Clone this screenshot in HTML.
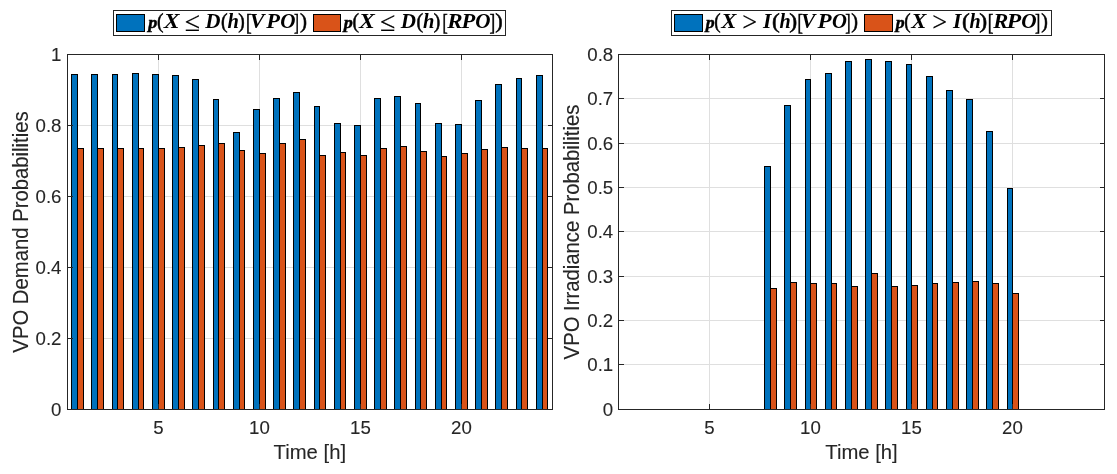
<!DOCTYPE html>
<html lang="en"><head><meta charset="utf-8"><title>VPO Probabilities</title>
<style>
html,body{margin:0;padding:0;background:#fff;}
body{width:1117px;height:474px;overflow:hidden;}
svg{display:block;}
text{font-family:"Liberation Sans",sans-serif;fill:#262626;}
.tk,.lb{stroke:#262626;stroke-width:0.1px;}
.tk{font-size:18.67px;}
.lb{font-size:20.3px;}
.m{font-family:"Liberation Serif",serif;font-size:20px;fill:#000;}
.bi{font-weight:bold;font-style:italic;}
.th{stroke:#000;stroke-width:0.55px;}
.rl{stroke:#000;stroke-width:0.15px;}
.pp{stroke:#000;stroke-width:0.45px;}
</style></head><body>
<svg width="1117" height="474" viewBox="0 0 1117 474">
<rect x="0" y="0" width="1117" height="474" fill="#fff"/>

<g shape-rendering="crispEdges">
<line x1="158.5" y1="54.5" x2="158.5" y2="409.5" stroke="#DFDFDF" stroke-width="1"/>
<line x1="259.5" y1="54.5" x2="259.5" y2="409.5" stroke="#DFDFDF" stroke-width="1"/>
<line x1="360.5" y1="54.5" x2="360.5" y2="409.5" stroke="#DFDFDF" stroke-width="1"/>
<line x1="461.5" y1="54.5" x2="461.5" y2="409.5" stroke="#DFDFDF" stroke-width="1"/>
<line x1="67.5" y1="338.5" x2="552.5" y2="338.5" stroke="#DFDFDF" stroke-width="1"/>
<line x1="67.5" y1="267.5" x2="552.5" y2="267.5" stroke="#DFDFDF" stroke-width="1"/>
<line x1="67.5" y1="196.5" x2="552.5" y2="196.5" stroke="#DFDFDF" stroke-width="1"/>
<line x1="67.5" y1="125.5" x2="552.5" y2="125.5" stroke="#DFDFDF" stroke-width="1"/>
<rect x="71.5" y="74.5" width="6" height="335" fill="#0072BD" stroke="#000" stroke-width="1"/>
<rect x="77.5" y="148.5" width="6" height="261" fill="#D95319" stroke="#000" stroke-width="1"/>
<rect x="91.5" y="74.5" width="6" height="335" fill="#0072BD" stroke="#000" stroke-width="1"/>
<rect x="97.5" y="148.5" width="6" height="261" fill="#D95319" stroke="#000" stroke-width="1"/>
<rect x="112.5" y="74.5" width="5" height="335" fill="#0072BD" stroke="#000" stroke-width="1"/>
<rect x="117.5" y="148.5" width="6" height="261" fill="#D95319" stroke="#000" stroke-width="1"/>
<rect x="132.5" y="73.5" width="6" height="336" fill="#0072BD" stroke="#000" stroke-width="1"/>
<rect x="138.5" y="148.5" width="5" height="261" fill="#D95319" stroke="#000" stroke-width="1"/>
<rect x="152.5" y="74.5" width="6" height="335" fill="#0072BD" stroke="#000" stroke-width="1"/>
<rect x="158.5" y="148.5" width="6" height="261" fill="#D95319" stroke="#000" stroke-width="1"/>
<rect x="172.5" y="75.5" width="6" height="334" fill="#0072BD" stroke="#000" stroke-width="1"/>
<rect x="178.5" y="147.5" width="6" height="262" fill="#D95319" stroke="#000" stroke-width="1"/>
<rect x="192.5" y="79.5" width="6" height="330" fill="#0072BD" stroke="#000" stroke-width="1"/>
<rect x="198.5" y="145.5" width="6" height="264" fill="#D95319" stroke="#000" stroke-width="1"/>
<rect x="213.5" y="99.5" width="5" height="310" fill="#0072BD" stroke="#000" stroke-width="1"/>
<rect x="218.5" y="143.5" width="6" height="266" fill="#D95319" stroke="#000" stroke-width="1"/>
<rect x="233.5" y="132.5" width="6" height="277" fill="#0072BD" stroke="#000" stroke-width="1"/>
<rect x="239.5" y="150.5" width="5" height="259" fill="#D95319" stroke="#000" stroke-width="1"/>
<rect x="253.5" y="109.5" width="6" height="300" fill="#0072BD" stroke="#000" stroke-width="1"/>
<rect x="259.5" y="153.5" width="6" height="256" fill="#D95319" stroke="#000" stroke-width="1"/>
<rect x="273.5" y="98.5" width="6" height="311" fill="#0072BD" stroke="#000" stroke-width="1"/>
<rect x="279.5" y="143.5" width="6" height="266" fill="#D95319" stroke="#000" stroke-width="1"/>
<rect x="293.5" y="92.5" width="6" height="317" fill="#0072BD" stroke="#000" stroke-width="1"/>
<rect x="299.5" y="139.5" width="6" height="270" fill="#D95319" stroke="#000" stroke-width="1"/>
<rect x="314.5" y="106.5" width="5" height="303" fill="#0072BD" stroke="#000" stroke-width="1"/>
<rect x="319.5" y="155.5" width="6" height="254" fill="#D95319" stroke="#000" stroke-width="1"/>
<rect x="334.5" y="123.5" width="6" height="286" fill="#0072BD" stroke="#000" stroke-width="1"/>
<rect x="340.5" y="152.5" width="5" height="257" fill="#D95319" stroke="#000" stroke-width="1"/>
<rect x="354.5" y="125.5" width="6" height="284" fill="#0072BD" stroke="#000" stroke-width="1"/>
<rect x="360.5" y="155.5" width="6" height="254" fill="#D95319" stroke="#000" stroke-width="1"/>
<rect x="374.5" y="98.5" width="6" height="311" fill="#0072BD" stroke="#000" stroke-width="1"/>
<rect x="380.5" y="148.5" width="6" height="261" fill="#D95319" stroke="#000" stroke-width="1"/>
<rect x="394.5" y="96.5" width="6" height="313" fill="#0072BD" stroke="#000" stroke-width="1"/>
<rect x="400.5" y="146.5" width="6" height="263" fill="#D95319" stroke="#000" stroke-width="1"/>
<rect x="415.5" y="103.5" width="5" height="306" fill="#0072BD" stroke="#000" stroke-width="1"/>
<rect x="420.5" y="151.5" width="6" height="258" fill="#D95319" stroke="#000" stroke-width="1"/>
<rect x="435.5" y="123.5" width="6" height="286" fill="#0072BD" stroke="#000" stroke-width="1"/>
<rect x="441.5" y="156.5" width="5" height="253" fill="#D95319" stroke="#000" stroke-width="1"/>
<rect x="455.5" y="124.5" width="6" height="285" fill="#0072BD" stroke="#000" stroke-width="1"/>
<rect x="461.5" y="153.5" width="6" height="256" fill="#D95319" stroke="#000" stroke-width="1"/>
<rect x="475.5" y="100.5" width="6" height="309" fill="#0072BD" stroke="#000" stroke-width="1"/>
<rect x="481.5" y="149.5" width="6" height="260" fill="#D95319" stroke="#000" stroke-width="1"/>
<rect x="495.5" y="84.5" width="6" height="325" fill="#0072BD" stroke="#000" stroke-width="1"/>
<rect x="501.5" y="147.5" width="6" height="262" fill="#D95319" stroke="#000" stroke-width="1"/>
<rect x="516.5" y="78.5" width="5" height="331" fill="#0072BD" stroke="#000" stroke-width="1"/>
<rect x="521.5" y="148.5" width="6" height="261" fill="#D95319" stroke="#000" stroke-width="1"/>
<rect x="536.5" y="75.5" width="6" height="334" fill="#0072BD" stroke="#000" stroke-width="1"/>
<rect x="542.5" y="148.5" width="5" height="261" fill="#D95319" stroke="#000" stroke-width="1"/>
<rect x="67.5" y="54.5" width="485.0" height="355.0" fill="none" stroke="#262626" stroke-width="1"/>
<line x1="158.5" y1="409.5" x2="158.5" y2="403.6" stroke="#262626" stroke-width="1"/>
<line x1="158.5" y1="54.5" x2="158.5" y2="59.5" stroke="#262626" stroke-width="1"/>
<line x1="259.5" y1="409.5" x2="259.5" y2="403.6" stroke="#262626" stroke-width="1"/>
<line x1="259.5" y1="54.5" x2="259.5" y2="59.5" stroke="#262626" stroke-width="1"/>
<line x1="360.5" y1="409.5" x2="360.5" y2="403.6" stroke="#262626" stroke-width="1"/>
<line x1="360.5" y1="54.5" x2="360.5" y2="59.5" stroke="#262626" stroke-width="1"/>
<line x1="461.5" y1="409.5" x2="461.5" y2="403.6" stroke="#262626" stroke-width="1"/>
<line x1="461.5" y1="54.5" x2="461.5" y2="59.5" stroke="#262626" stroke-width="1"/>
<line x1="67.5" y1="409.5" x2="72.5" y2="409.5" stroke="#262626" stroke-width="1"/>
<line x1="552.5" y1="409.5" x2="547.5" y2="409.5" stroke="#262626" stroke-width="1"/>
<line x1="67.5" y1="338.5" x2="72.5" y2="338.5" stroke="#262626" stroke-width="1"/>
<line x1="552.5" y1="338.5" x2="547.5" y2="338.5" stroke="#262626" stroke-width="1"/>
<line x1="67.5" y1="267.5" x2="72.5" y2="267.5" stroke="#262626" stroke-width="1"/>
<line x1="552.5" y1="267.5" x2="547.5" y2="267.5" stroke="#262626" stroke-width="1"/>
<line x1="67.5" y1="196.5" x2="72.5" y2="196.5" stroke="#262626" stroke-width="1"/>
<line x1="552.5" y1="196.5" x2="547.5" y2="196.5" stroke="#262626" stroke-width="1"/>
<line x1="67.5" y1="125.5" x2="72.5" y2="125.5" stroke="#262626" stroke-width="1"/>
<line x1="552.5" y1="125.5" x2="547.5" y2="125.5" stroke="#262626" stroke-width="1"/>
<line x1="67.5" y1="54.5" x2="72.5" y2="54.5" stroke="#262626" stroke-width="1"/>
<line x1="552.5" y1="54.5" x2="547.5" y2="54.5" stroke="#262626" stroke-width="1"/>
</g>
<text class="tk" x="158.5" y="434" text-anchor="middle">5</text>
<text class="tk" x="259.5" y="434" text-anchor="middle">10</text>
<text class="tk" x="360.5" y="434" text-anchor="middle">15</text>
<text class="tk" x="461.5" y="434" text-anchor="middle">20</text>
<text class="tk" x="61.5" y="416.3" text-anchor="end">0</text>
<text class="tk" x="61.5" y="345.3" text-anchor="end">0.2</text>
<text class="tk" x="61.5" y="274.3" text-anchor="end">0.4</text>
<text class="tk" x="61.5" y="203.3" text-anchor="end">0.6</text>
<text class="tk" x="61.5" y="132.3" text-anchor="end">0.8</text>
<text class="tk" x="61.5" y="61.3" text-anchor="end">1</text>
<text class="lb" x="309.8" y="458.6" text-anchor="middle">Time [h]</text>
<text class="lb" transform="translate(28.2,232) rotate(-90) scale(1,1.05)" text-anchor="middle">VPO Demand Probabilities</text>
<g shape-rendering="crispEdges">
<line x1="709.5" y1="54.5" x2="709.5" y2="409.5" stroke="#DFDFDF" stroke-width="1"/>
<line x1="810.5" y1="54.5" x2="810.5" y2="409.5" stroke="#DFDFDF" stroke-width="1"/>
<line x1="911.5" y1="54.5" x2="911.5" y2="409.5" stroke="#DFDFDF" stroke-width="1"/>
<line x1="1012.5" y1="54.5" x2="1012.5" y2="409.5" stroke="#DFDFDF" stroke-width="1"/>
<line x1="618.5" y1="364.5" x2="1104.5" y2="364.5" stroke="#DFDFDF" stroke-width="1"/>
<line x1="618.5" y1="320.5" x2="1104.5" y2="320.5" stroke="#DFDFDF" stroke-width="1"/>
<line x1="618.5" y1="276.5" x2="1104.5" y2="276.5" stroke="#DFDFDF" stroke-width="1"/>
<line x1="618.5" y1="231.5" x2="1104.5" y2="231.5" stroke="#DFDFDF" stroke-width="1"/>
<line x1="618.5" y1="187.5" x2="1104.5" y2="187.5" stroke="#DFDFDF" stroke-width="1"/>
<line x1="618.5" y1="143.5" x2="1104.5" y2="143.5" stroke="#DFDFDF" stroke-width="1"/>
<line x1="618.5" y1="98.5" x2="1104.5" y2="98.5" stroke="#DFDFDF" stroke-width="1"/>
<rect x="764.5" y="166.5" width="6" height="243" fill="#0072BD" stroke="#000" stroke-width="1"/>
<rect x="770.5" y="288.5" width="6" height="121" fill="#D95319" stroke="#000" stroke-width="1"/>
<rect x="784.5" y="105.5" width="6" height="304" fill="#0072BD" stroke="#000" stroke-width="1"/>
<rect x="790.5" y="282.5" width="6" height="127" fill="#D95319" stroke="#000" stroke-width="1"/>
<rect x="805.5" y="79.5" width="5" height="330" fill="#0072BD" stroke="#000" stroke-width="1"/>
<rect x="810.5" y="283.5" width="6" height="126" fill="#D95319" stroke="#000" stroke-width="1"/>
<rect x="825.5" y="73.5" width="6" height="336" fill="#0072BD" stroke="#000" stroke-width="1"/>
<rect x="831.5" y="283.5" width="5" height="126" fill="#D95319" stroke="#000" stroke-width="1"/>
<rect x="845.5" y="61.5" width="6" height="348" fill="#0072BD" stroke="#000" stroke-width="1"/>
<rect x="851.5" y="286.5" width="6" height="123" fill="#D95319" stroke="#000" stroke-width="1"/>
<rect x="865.5" y="59.5" width="6" height="350" fill="#0072BD" stroke="#000" stroke-width="1"/>
<rect x="871.5" y="273.5" width="6" height="136" fill="#D95319" stroke="#000" stroke-width="1"/>
<rect x="885.5" y="61.5" width="6" height="348" fill="#0072BD" stroke="#000" stroke-width="1"/>
<rect x="891.5" y="286.5" width="6" height="123" fill="#D95319" stroke="#000" stroke-width="1"/>
<rect x="906.5" y="64.5" width="5" height="345" fill="#0072BD" stroke="#000" stroke-width="1"/>
<rect x="911.5" y="285.5" width="6" height="124" fill="#D95319" stroke="#000" stroke-width="1"/>
<rect x="926.5" y="76.5" width="6" height="333" fill="#0072BD" stroke="#000" stroke-width="1"/>
<rect x="932.5" y="283.5" width="5" height="126" fill="#D95319" stroke="#000" stroke-width="1"/>
<rect x="946.5" y="90.5" width="6" height="319" fill="#0072BD" stroke="#000" stroke-width="1"/>
<rect x="952.5" y="282.5" width="6" height="127" fill="#D95319" stroke="#000" stroke-width="1"/>
<rect x="966.5" y="99.5" width="6" height="310" fill="#0072BD" stroke="#000" stroke-width="1"/>
<rect x="972.5" y="281.5" width="6" height="128" fill="#D95319" stroke="#000" stroke-width="1"/>
<rect x="986.5" y="131.5" width="6" height="278" fill="#0072BD" stroke="#000" stroke-width="1"/>
<rect x="992.5" y="283.5" width="6" height="126" fill="#D95319" stroke="#000" stroke-width="1"/>
<rect x="1007.5" y="188.5" width="5" height="221" fill="#0072BD" stroke="#000" stroke-width="1"/>
<rect x="1012.5" y="293.5" width="6" height="116" fill="#D95319" stroke="#000" stroke-width="1"/>
<rect x="618.5" y="54.5" width="486.0" height="355.0" fill="none" stroke="#262626" stroke-width="1"/>
<line x1="709.5" y1="409.5" x2="709.5" y2="403.6" stroke="#262626" stroke-width="1"/>
<line x1="709.5" y1="54.5" x2="709.5" y2="59.5" stroke="#262626" stroke-width="1"/>
<line x1="810.5" y1="409.5" x2="810.5" y2="403.6" stroke="#262626" stroke-width="1"/>
<line x1="810.5" y1="54.5" x2="810.5" y2="59.5" stroke="#262626" stroke-width="1"/>
<line x1="911.5" y1="409.5" x2="911.5" y2="403.6" stroke="#262626" stroke-width="1"/>
<line x1="911.5" y1="54.5" x2="911.5" y2="59.5" stroke="#262626" stroke-width="1"/>
<line x1="1012.5" y1="409.5" x2="1012.5" y2="403.6" stroke="#262626" stroke-width="1"/>
<line x1="1012.5" y1="54.5" x2="1012.5" y2="59.5" stroke="#262626" stroke-width="1"/>
<line x1="618.5" y1="409.5" x2="623.5" y2="409.5" stroke="#262626" stroke-width="1"/>
<line x1="1104.5" y1="409.5" x2="1099.5" y2="409.5" stroke="#262626" stroke-width="1"/>
<line x1="618.5" y1="364.5" x2="623.5" y2="364.5" stroke="#262626" stroke-width="1"/>
<line x1="1104.5" y1="364.5" x2="1099.5" y2="364.5" stroke="#262626" stroke-width="1"/>
<line x1="618.5" y1="320.5" x2="623.5" y2="320.5" stroke="#262626" stroke-width="1"/>
<line x1="1104.5" y1="320.5" x2="1099.5" y2="320.5" stroke="#262626" stroke-width="1"/>
<line x1="618.5" y1="276.5" x2="623.5" y2="276.5" stroke="#262626" stroke-width="1"/>
<line x1="1104.5" y1="276.5" x2="1099.5" y2="276.5" stroke="#262626" stroke-width="1"/>
<line x1="618.5" y1="231.5" x2="623.5" y2="231.5" stroke="#262626" stroke-width="1"/>
<line x1="1104.5" y1="231.5" x2="1099.5" y2="231.5" stroke="#262626" stroke-width="1"/>
<line x1="618.5" y1="187.5" x2="623.5" y2="187.5" stroke="#262626" stroke-width="1"/>
<line x1="1104.5" y1="187.5" x2="1099.5" y2="187.5" stroke="#262626" stroke-width="1"/>
<line x1="618.5" y1="143.5" x2="623.5" y2="143.5" stroke="#262626" stroke-width="1"/>
<line x1="1104.5" y1="143.5" x2="1099.5" y2="143.5" stroke="#262626" stroke-width="1"/>
<line x1="618.5" y1="98.5" x2="623.5" y2="98.5" stroke="#262626" stroke-width="1"/>
<line x1="1104.5" y1="98.5" x2="1099.5" y2="98.5" stroke="#262626" stroke-width="1"/>
<line x1="618.5" y1="54.5" x2="623.5" y2="54.5" stroke="#262626" stroke-width="1"/>
<line x1="1104.5" y1="54.5" x2="1099.5" y2="54.5" stroke="#262626" stroke-width="1"/>
</g>
<text class="tk" x="709.5" y="434" text-anchor="middle">5</text>
<text class="tk" x="810.5" y="434" text-anchor="middle">10</text>
<text class="tk" x="911.5" y="434" text-anchor="middle">15</text>
<text class="tk" x="1012.5" y="434" text-anchor="middle">20</text>
<text class="tk" x="613.2" y="416.3" text-anchor="end">0</text>
<text class="tk" x="613.2" y="371.3" text-anchor="end">0.1</text>
<text class="tk" x="613.2" y="327.3" text-anchor="end">0.2</text>
<text class="tk" x="613.2" y="283.3" text-anchor="end">0.3</text>
<text class="tk" x="613.2" y="238.3" text-anchor="end">0.4</text>
<text class="tk" x="613.2" y="194.3" text-anchor="end">0.5</text>
<text class="tk" x="613.2" y="150.3" text-anchor="end">0.6</text>
<text class="tk" x="613.2" y="105.3" text-anchor="end">0.7</text>
<text class="tk" x="613.2" y="61.3" text-anchor="end">0.8</text>
<text class="lb" x="861.5" y="458.6" text-anchor="middle">Time [h]</text>
<text class="lb" transform="translate(578.8,232) rotate(-90) scale(1,1.05)" text-anchor="middle">VPO Irradiance Probabilities</text>
<g shape-rendering="crispEdges">
<rect x="113.5" y="10.5" width="392" height="25" fill="#fff" stroke="#262626" stroke-width="1"/>
<rect x="116.5" y="14.5" width="28" height="17" fill="#0072BD" stroke="#000" stroke-width="1"/>
<rect x="313.5" y="14.5" width="27" height="17" fill="#D95319" stroke="#000" stroke-width="1"/>
</g>
<text class="m"><tspan class="bi pp" x="148.29" y="27.8" font-size="17.5" textLength="9.06" lengthAdjust="spacingAndGlyphs">p</tspan><tspan class="th" x="157.04" y="28.1" font-size="21.9" textLength="6.48" lengthAdjust="spacingAndGlyphs">(</tspan><tspan class="bi" x="163.70" y="27.5" font-size="20.8" textLength="15.81" lengthAdjust="spacingAndGlyphs">X</tspan><tspan x="181.00" y="27.5" font-size="20.8"> </tspan><tspan class="rl" x="184.74" y="30.8" font-size="27.6" textLength="15.33" lengthAdjust="spacingAndGlyphs">≤</tspan><tspan x="200.00" y="27.5" font-size="20.8"> </tspan><tspan class="bi" x="205.25" y="27.5" font-size="20.8" textLength="15.24" lengthAdjust="spacingAndGlyphs">D</tspan><tspan class="th" x="221.03" y="28.1" font-size="21.9" textLength="6.61" lengthAdjust="spacingAndGlyphs">(</tspan><tspan class="bi" x="227.60" y="27.5" font-size="20.8" textLength="11.42" lengthAdjust="spacingAndGlyphs">h</tspan><tspan class="th" x="238.37" y="28.1" font-size="21.9" textLength="6.48" lengthAdjust="spacingAndGlyphs">)</tspan><tspan class="th" x="245.93" y="29.6" font-size="23.8" textLength="5.68" lengthAdjust="spacingAndGlyphs">[</tspan><tspan class="bi" x="249.71" y="27.5" font-size="20.8" textLength="14.70" lengthAdjust="spacingAndGlyphs">V</tspan><tspan class="bi" x="266.21" y="27.5" font-size="20.8" textLength="13.75" lengthAdjust="spacingAndGlyphs">P</tspan><tspan class="bi" x="280.34" y="27.5" font-size="20.8" textLength="15.26" lengthAdjust="spacingAndGlyphs">O</tspan><tspan class="th" x="294.06" y="29.6" font-size="23.8" textLength="4.94" lengthAdjust="spacingAndGlyphs">]</tspan><tspan class="th" x="300.02" y="28.1" font-size="21.9" textLength="7.00" lengthAdjust="spacingAndGlyphs">)</tspan></text>
<text class="m"><tspan class="bi pp" x="343.69" y="27.8" font-size="17.5" textLength="9.06" lengthAdjust="spacingAndGlyphs">p</tspan><tspan class="th" x="352.44" y="28.1" font-size="21.9" textLength="6.48" lengthAdjust="spacingAndGlyphs">(</tspan><tspan class="bi" x="359.10" y="27.5" font-size="20.8" textLength="15.81" lengthAdjust="spacingAndGlyphs">X</tspan><tspan x="376.40" y="27.5" font-size="20.8"> </tspan><tspan class="rl" x="380.14" y="30.8" font-size="27.6" textLength="15.33" lengthAdjust="spacingAndGlyphs">≤</tspan><tspan x="395.40" y="27.5" font-size="20.8"> </tspan><tspan class="bi" x="400.65" y="27.5" font-size="20.8" textLength="15.24" lengthAdjust="spacingAndGlyphs">D</tspan><tspan class="th" x="416.43" y="28.1" font-size="21.9" textLength="6.61" lengthAdjust="spacingAndGlyphs">(</tspan><tspan class="bi" x="423.00" y="27.5" font-size="20.8" textLength="11.42" lengthAdjust="spacingAndGlyphs">h</tspan><tspan class="th" x="433.77" y="28.1" font-size="21.9" textLength="6.48" lengthAdjust="spacingAndGlyphs">)</tspan><tspan class="th" x="442.53" y="29.6" font-size="23.8" textLength="5.23" lengthAdjust="spacingAndGlyphs">[</tspan><tspan class="bi" x="447.33" y="27.5" font-size="20.8" textLength="15.34" lengthAdjust="spacingAndGlyphs">R</tspan><tspan class="bi" x="461.51" y="27.5" font-size="20.8" textLength="13.75" lengthAdjust="spacingAndGlyphs">P</tspan><tspan class="bi" x="475.34" y="27.5" font-size="20.8" textLength="15.26" lengthAdjust="spacingAndGlyphs">O</tspan><tspan class="th" x="489.38" y="29.6" font-size="23.8" textLength="5.68" lengthAdjust="spacingAndGlyphs">]</tspan><tspan class="th" x="495.28" y="28.1" font-size="21.9" textLength="7.39" lengthAdjust="spacingAndGlyphs">)</tspan></text>
<g shape-rendering="crispEdges">
<rect x="671.5" y="10.5" width="380" height="25" fill="#fff" stroke="#262626" stroke-width="1"/>
<rect x="674.5" y="14.5" width="28" height="17" fill="#0072BD" stroke="#000" stroke-width="1"/>
<rect x="864.5" y="14.5" width="28" height="17" fill="#D95319" stroke="#000" stroke-width="1"/>
</g>
<text class="m"><tspan class="bi pp" x="705.76" y="27.8" font-size="17.5" textLength="8.87" lengthAdjust="spacingAndGlyphs">p</tspan><tspan class="th" x="714.36" y="28.1" font-size="21.9" textLength="6.35" lengthAdjust="spacingAndGlyphs">(</tspan><tspan class="bi" x="721.38" y="27.5" font-size="20.8" textLength="15.16" lengthAdjust="spacingAndGlyphs">X</tspan><tspan x="738.00" y="27.5" font-size="20.8"> </tspan><tspan class="rl" x="742.36" y="31.3" font-size="26.4" textLength="14.91" lengthAdjust="spacingAndGlyphs">&gt;</tspan><tspan x="757.00" y="27.5" font-size="20.8"> </tspan><tspan class="bi" x="763.01" y="27.5" font-size="20.8" textLength="8.38" lengthAdjust="spacingAndGlyphs">I</tspan><tspan class="th" x="771.97" y="28.1" font-size="21.9" textLength="7.78" lengthAdjust="spacingAndGlyphs">(</tspan><tspan class="bi" x="779.51" y="27.5" font-size="20.8" textLength="11.20" lengthAdjust="spacingAndGlyphs">h</tspan><tspan class="th" x="789.23" y="28.1" font-size="21.9" textLength="7.91" lengthAdjust="spacingAndGlyphs">)</tspan><tspan class="th" x="797.60" y="29.6" font-size="23.8" textLength="5.38" lengthAdjust="spacingAndGlyphs">[</tspan><tspan class="bi" x="801.14" y="27.5" font-size="20.8" textLength="14.30" lengthAdjust="spacingAndGlyphs">V</tspan><tspan class="bi" x="817.61" y="27.5" font-size="20.8" textLength="14.14" lengthAdjust="spacingAndGlyphs">P</tspan><tspan class="bi" x="832.05" y="27.5" font-size="20.8" textLength="14.93" lengthAdjust="spacingAndGlyphs">O</tspan><tspan class="th" x="845.22" y="29.6" font-size="23.8" textLength="5.38" lengthAdjust="spacingAndGlyphs">]</tspan><tspan class="th" x="851.35" y="28.1" font-size="21.9" textLength="6.74" lengthAdjust="spacingAndGlyphs">)</tspan></text>
<text class="m"><tspan class="bi pp" x="895.76" y="27.8" font-size="17.5" textLength="8.87" lengthAdjust="spacingAndGlyphs">p</tspan><tspan class="th" x="904.36" y="28.1" font-size="21.9" textLength="6.35" lengthAdjust="spacingAndGlyphs">(</tspan><tspan class="bi" x="911.38" y="27.5" font-size="20.8" textLength="15.16" lengthAdjust="spacingAndGlyphs">X</tspan><tspan x="928.00" y="27.5" font-size="20.8"> </tspan><tspan class="rl" x="932.36" y="31.3" font-size="26.4" textLength="14.91" lengthAdjust="spacingAndGlyphs">&gt;</tspan><tspan x="947.00" y="27.5" font-size="20.8"> </tspan><tspan class="bi" x="953.01" y="27.5" font-size="20.8" textLength="8.38" lengthAdjust="spacingAndGlyphs">I</tspan><tspan class="th" x="961.97" y="28.1" font-size="21.9" textLength="7.78" lengthAdjust="spacingAndGlyphs">(</tspan><tspan class="bi" x="969.51" y="27.5" font-size="20.8" textLength="11.20" lengthAdjust="spacingAndGlyphs">h</tspan><tspan class="th" x="979.23" y="28.1" font-size="21.9" textLength="7.91" lengthAdjust="spacingAndGlyphs">)</tspan><tspan class="th" x="987.83" y="29.6" font-size="23.8" textLength="5.68" lengthAdjust="spacingAndGlyphs">[</tspan><tspan class="bi" x="993.23" y="27.5" font-size="20.8" textLength="15.02" lengthAdjust="spacingAndGlyphs">R</tspan><tspan class="bi" x="1006.81" y="27.5" font-size="20.8" textLength="14.44" lengthAdjust="spacingAndGlyphs">P</tspan><tspan class="bi" x="1021.23" y="27.5" font-size="20.8" textLength="15.37" lengthAdjust="spacingAndGlyphs">O</tspan><tspan class="th" x="1035.03" y="29.6" font-size="23.8" textLength="5.23" lengthAdjust="spacingAndGlyphs">]</tspan><tspan class="th" x="1041.36" y="28.1" font-size="21.9" textLength="6.61" lengthAdjust="spacingAndGlyphs">)</tspan></text>
</svg></body></html>
